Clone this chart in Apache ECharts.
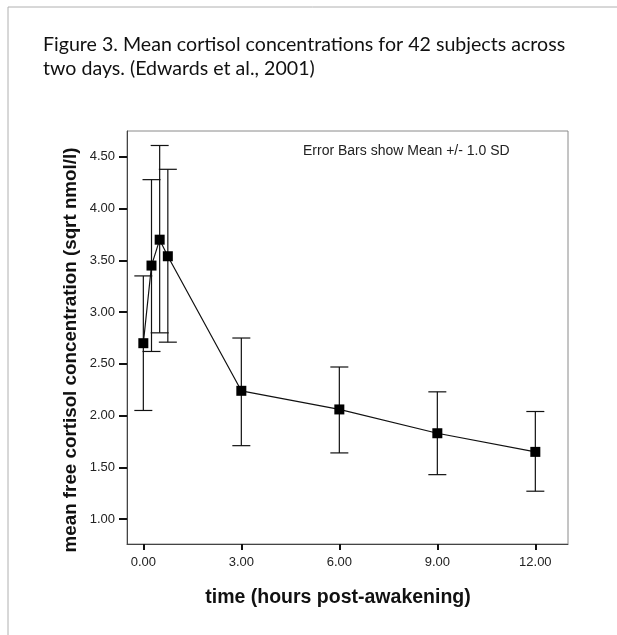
<!DOCTYPE html>
<html>
<head>
<meta charset="utf-8">
<script src="https://cdn.jsdelivr.net/npm/echarts@6/dist/echarts.min.js"></script>
<style>
html,body{margin:0;padding:0;background:#fff;}
#chart{width:617px;height:635px;}
</style>
</head>
<body>
<div id="chart"></div>
<script>
// ---- data ----
const timeHours   = [0, 0.25, 0.5, 0.75, 3, 6, 9, 12];
const meanValues  = [2.70, 3.45, 3.70, 3.54, 2.24, 2.06, 1.83, 1.65];
const upperValues = [3.35, 4.28, 4.61, 4.38, 2.75, 2.47, 2.23, 2.04];
const lowerValues = [2.05, 2.62, 2.80, 2.71, 1.71, 1.64, 1.43, 1.27];
const xTickValues = [0, 3, 6, 9, 12];
const yTickValues = [1.0, 1.5, 2.0, 2.5, 3.0, 3.5, 4.0, 4.5];
const titleLines  = ['Figure 3. Mean cortisol concentrations for 42 subjects across',
                     'two days. (Edwards et al., 2001)'];
const xAxisTitle  = 'time (hours post-awakening)';
const yAxisTitle  = 'mean free cortisol concentration (sqrt nmol/l)';
const noteText    = 'Error Bars show Mean +/- 1.0 SD';

const chart = echarts.init(document.getElementById('chart'), null, {renderer: 'canvas'});

const lineData = timeHours.map((t, i) => [t, meanValues[i]]);
const errData  = timeHours.map((t, i) => [t, lowerValues[i], upperValues[i]]);

const option = {
  backgroundColor: '#fff',
  animation: false,
  grid: {
    left: 127, right: 49, top: 131, bottom: 91,
    show: true, borderColor: '#8a8a8a', borderWidth: 1, backgroundColor: 'transparent'
  },
  xAxis: {
    type: 'value', min: -0.5, max: 13,
    axisLine: {show: true, onZero: false, lineStyle: {color: '#444', width: 1}},
    axisTick: {show: true, customValues: xTickValues, length: 6, lineStyle: {color: '#111', width: 2}},
    axisLabel: {customValues: xTickValues, margin: 12, color: '#222',
      fontFamily: 'Liberation Sans, Arial, sans-serif', fontSize: 13,
      formatter: v => v.toFixed(2)},
    splitLine: {show: false}
  },
  yAxis: {
    type: 'value', min: 0.76, max: 4.75,
    axisLine: {show: true, onZero: false, lineStyle: {color: '#444', width: 1}},
    axisTick: {show: true, customValues: yTickValues, length: 8, lineStyle: {color: '#111', width: 2}},
    axisLabel: {customValues: yTickValues, margin: 12, color: '#222',
      fontFamily: 'Liberation Sans, Arial, sans-serif', fontSize: 13,
      formatter: v => v.toFixed(2)},
    splitLine: {show: false}
  },
  series: [
    {
      type: 'custom',
      name: 'sd',
      z: 2,
      data: errData,
      renderItem: function (params, api) {
        const x = api.value(0);
        const lo = api.coord([x, api.value(1)]);
        const hi = api.coord([x, api.value(2)]);
        const hw = 9;
        const st = {stroke: '#111', lineWidth: 1.2};
        return {
          type: 'group',
          children: [
            {type: 'line', shape: {x1: lo[0], y1: lo[1], x2: hi[0], y2: hi[1]}, style: st},
            {type: 'line', shape: {x1: hi[0] - hw, y1: hi[1], x2: hi[0] + hw, y2: hi[1]}, style: st},
            {type: 'line', shape: {x1: lo[0] - hw, y1: lo[1], x2: lo[0] + hw, y2: lo[1]}, style: st}
          ]
        };
      }
    },
    {
      type: 'line',
      z: 3,
      data: lineData,
      symbol: 'rect',
      symbolSize: 10,
      lineStyle: {color: '#111', width: 1.2},
      itemStyle: {color: '#000'}
    }
  ],
  graphic: [
    {type: 'line', shape: {x1: 8, y1: 7, x2: 617, y2: 7}, style: {stroke: '#b0b0b0', lineWidth: 1}},
    {type: 'line', shape: {x1: 8, y1: 7, x2: 8, y2: 635}, style: {stroke: '#b0b0b0', lineWidth: 1}},
    {type: 'text', left: 43, top: 35, style: {text: titleLines[0], font: '19.6px Lato, "Open Sans", sans-serif', fill: '#111'}},
    {type: 'text', left: 43, top: 59, style: {text: titleLines[1], font: '19.6px Lato, "Open Sans", sans-serif', fill: '#111'}},
    {type: 'text', left: 303, top: 144, style: {text: noteText, font: '14px "Liberation Sans", Arial, sans-serif', fill: '#222'}},
    {type: 'text', x: 338, y: 598, style: {text: xAxisTitle, font: 'bold 19.5px "Liberation Sans", Arial, sans-serif', fill: '#111', align: 'center', verticalAlign: 'middle'}},
    {type: 'text', x: 71, y: 350, rotation: Math.PI / 2, style: {text: yAxisTitle, font: 'bold 18.8px "Liberation Sans", Arial, sans-serif', fill: '#111', align: 'center', verticalAlign: 'middle'}}
  ]
};
chart.setOption(option);
</script>
</body>
</html>
